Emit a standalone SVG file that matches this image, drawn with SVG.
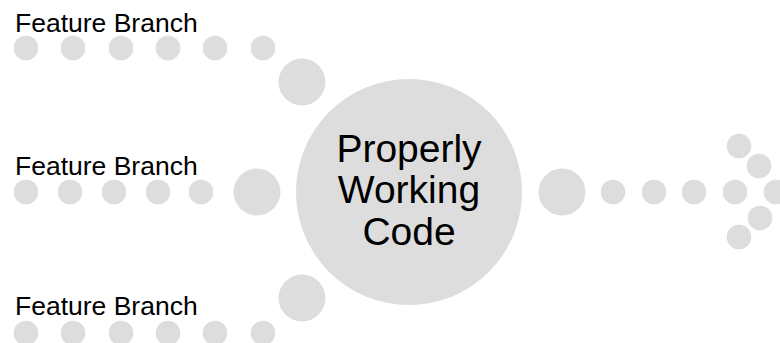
<svg xmlns="http://www.w3.org/2000/svg" width="780" height="343" viewBox="0 0 780 343">
<style>
.d{fill:#dddddd}
.lbl{font-family:"Liberation Sans",Arial,sans-serif;font-size:26.5px;fill:#000}
.main{font-family:"Liberation Sans",Arial,sans-serif;font-size:39px;fill:#000;text-anchor:middle}
</style>
<rect width="780" height="343" fill="#fff"/>
<g id="branch-top">
<text class="lbl" x="15" y="32">Feature Branch</text>
<circle class="d" cx="26" cy="48" r="12.3"/>
<circle class="d" cx="73" cy="48" r="12.3"/>
<circle class="d" cx="121" cy="48" r="12.3"/>
<circle class="d" cx="168" cy="48" r="12.3"/>
<circle class="d" cx="215" cy="48" r="12.3"/>
<circle class="d" cx="263" cy="48" r="12.3"/>
<circle class="d" cx="302" cy="82" r="23.5"/>
</g>
<g id="branch-mid">
<text class="lbl" x="15" y="175">Feature Branch</text>
<circle class="d" cx="26" cy="192" r="12.3"/>
<circle class="d" cx="70" cy="192" r="12.3"/>
<circle class="d" cx="114" cy="192" r="12.3"/>
<circle class="d" cx="158" cy="192" r="12.3"/>
<circle class="d" cx="201" cy="192" r="12.3"/>
<circle class="d" cx="257" cy="192" r="23.5"/>
</g>
<g id="branch-bottom">
<text class="lbl" x="15" y="315">Feature Branch</text>
<circle class="d" cx="26" cy="333" r="12.3"/>
<circle class="d" cx="73" cy="333" r="12.3"/>
<circle class="d" cx="121" cy="333" r="12.3"/>
<circle class="d" cx="168" cy="333" r="12.3"/>
<circle class="d" cx="215" cy="333" r="12.3"/>
<circle class="d" cx="263" cy="333" r="12.3"/>
<circle class="d" cx="302" cy="298" r="23.5"/>
</g>
<g id="main">
<circle class="d" cx="409" cy="192" r="113"/>
<text class="main" x="409" y="162">Properly</text>
<text class="main" x="409" y="203">Working</text>
<text class="main" x="409" y="245">Code</text>
</g>
<g id="output">
<circle class="d" cx="562" cy="192" r="23.5"/>
<circle class="d" cx="613" cy="192" r="12.3"/>
<circle class="d" cx="654" cy="192" r="12.3"/>
<circle class="d" cx="694" cy="192" r="12.3"/>
<circle class="d" cx="735" cy="192" r="12.3"/>
<circle class="d" cx="776" cy="192" r="12.3"/>
<circle class="d" cx="739" cy="146" r="12.3"/>
<circle class="d" cx="759" cy="166" r="12.3"/>
<circle class="d" cx="760" cy="218" r="12.3"/>
<circle class="d" cx="739" cy="237" r="12.3"/>
</g>
<g id="connectors"></g>
</svg>
